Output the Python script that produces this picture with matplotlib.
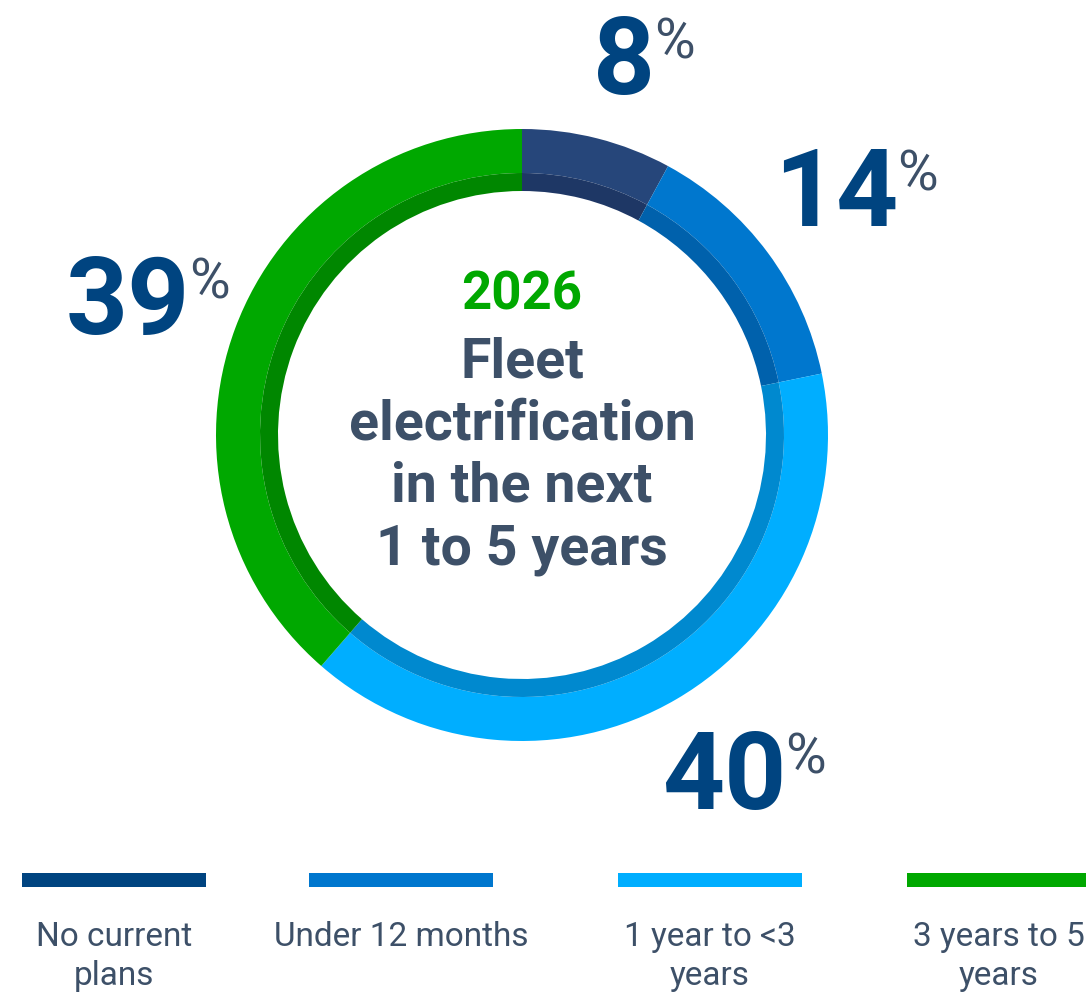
import matplotlib
matplotlib.use("Agg")
import matplotlib.pyplot as plt

categories = ["No current\nplans", "Under 12 months", "1 year to <3\nyears", "3 years to 5\nyears"]
values = [8, 14, 40, 39]
outer_colors = ["#26467A", "#0077CE", "#00AEFF", "#00A800"]
inner_colors = ["#1E3765", "#0061AC", "#0089CF", "#008700"]
legend_colors = ["#004480", "#0077CE", "#00AEFF", "#00A800"]

W, H = 1086, 997
cx, cy = 522, H - 435

fig = plt.figure(figsize=(W / 100, H / 100), dpi=100)
ax = fig.add_axes([0, 0, 1, 1])

font = ["Roboto", "DejaVu Sans"]
num_col = "#004480"
txt_col = "#3D5068"

# outer ring and darker inner band
ax.pie(values, colors=outer_colors, startangle=90, counterclock=False,
       center=(cx, cy), radius=306, wedgeprops=dict(width=44, linewidth=0))
ax.pie(values, colors=inner_colors, startangle=90, counterclock=False,
       center=(cx, cy), radius=262, wedgeprops=dict(width=18, linewidth=0))
ax.set_xlim(0, W)
ax.set_ylim(0, H)
ax.set_aspect("equal")
ax.axis("off")

# percentage labels (baseline positions)
label_pos = [(624, H - 94), (836, H - 226), (724, H - 809), (128, H - 334)]
for v, (x, y) in zip(values, label_pos):
    t = ax.text(x, y, str(v), ha="center", va="baseline", fontsize=78,
                fontweight="bold", color=num_col, family=font)
    ax.annotate("%", xy=(0.99, 0.97), xycoords=t, ha="left", va="top",
                fontsize=40, color=txt_col, family=font)

# centre text
ax.text(cx, H - 295, "2026", ha="center", va="center", fontsize=38,
        fontweight="bold", color="#00A800", family=font)
ax.text(cx, H - 456, "Fleet\nelectrification\nin the next\n1 to 5 years",
        ha="center", va="center", fontsize=40, fontweight="bold",
        color=txt_col, family=font, linespacing=1.25)

# legend
leg_x = [114, 401, 710, 999]
for c, lab, x in zip(legend_colors, categories, leg_x):
    ax.add_patch(plt.Rectangle((x - 92, H - 887), 184, 14, color=c, lw=0))
    ax.text(x, H - 921, lab, ha="center", va="top", fontsize=24,
            color=txt_col, family=font, linespacing=1.3)

fig.savefig("out.png", dpi=100)
